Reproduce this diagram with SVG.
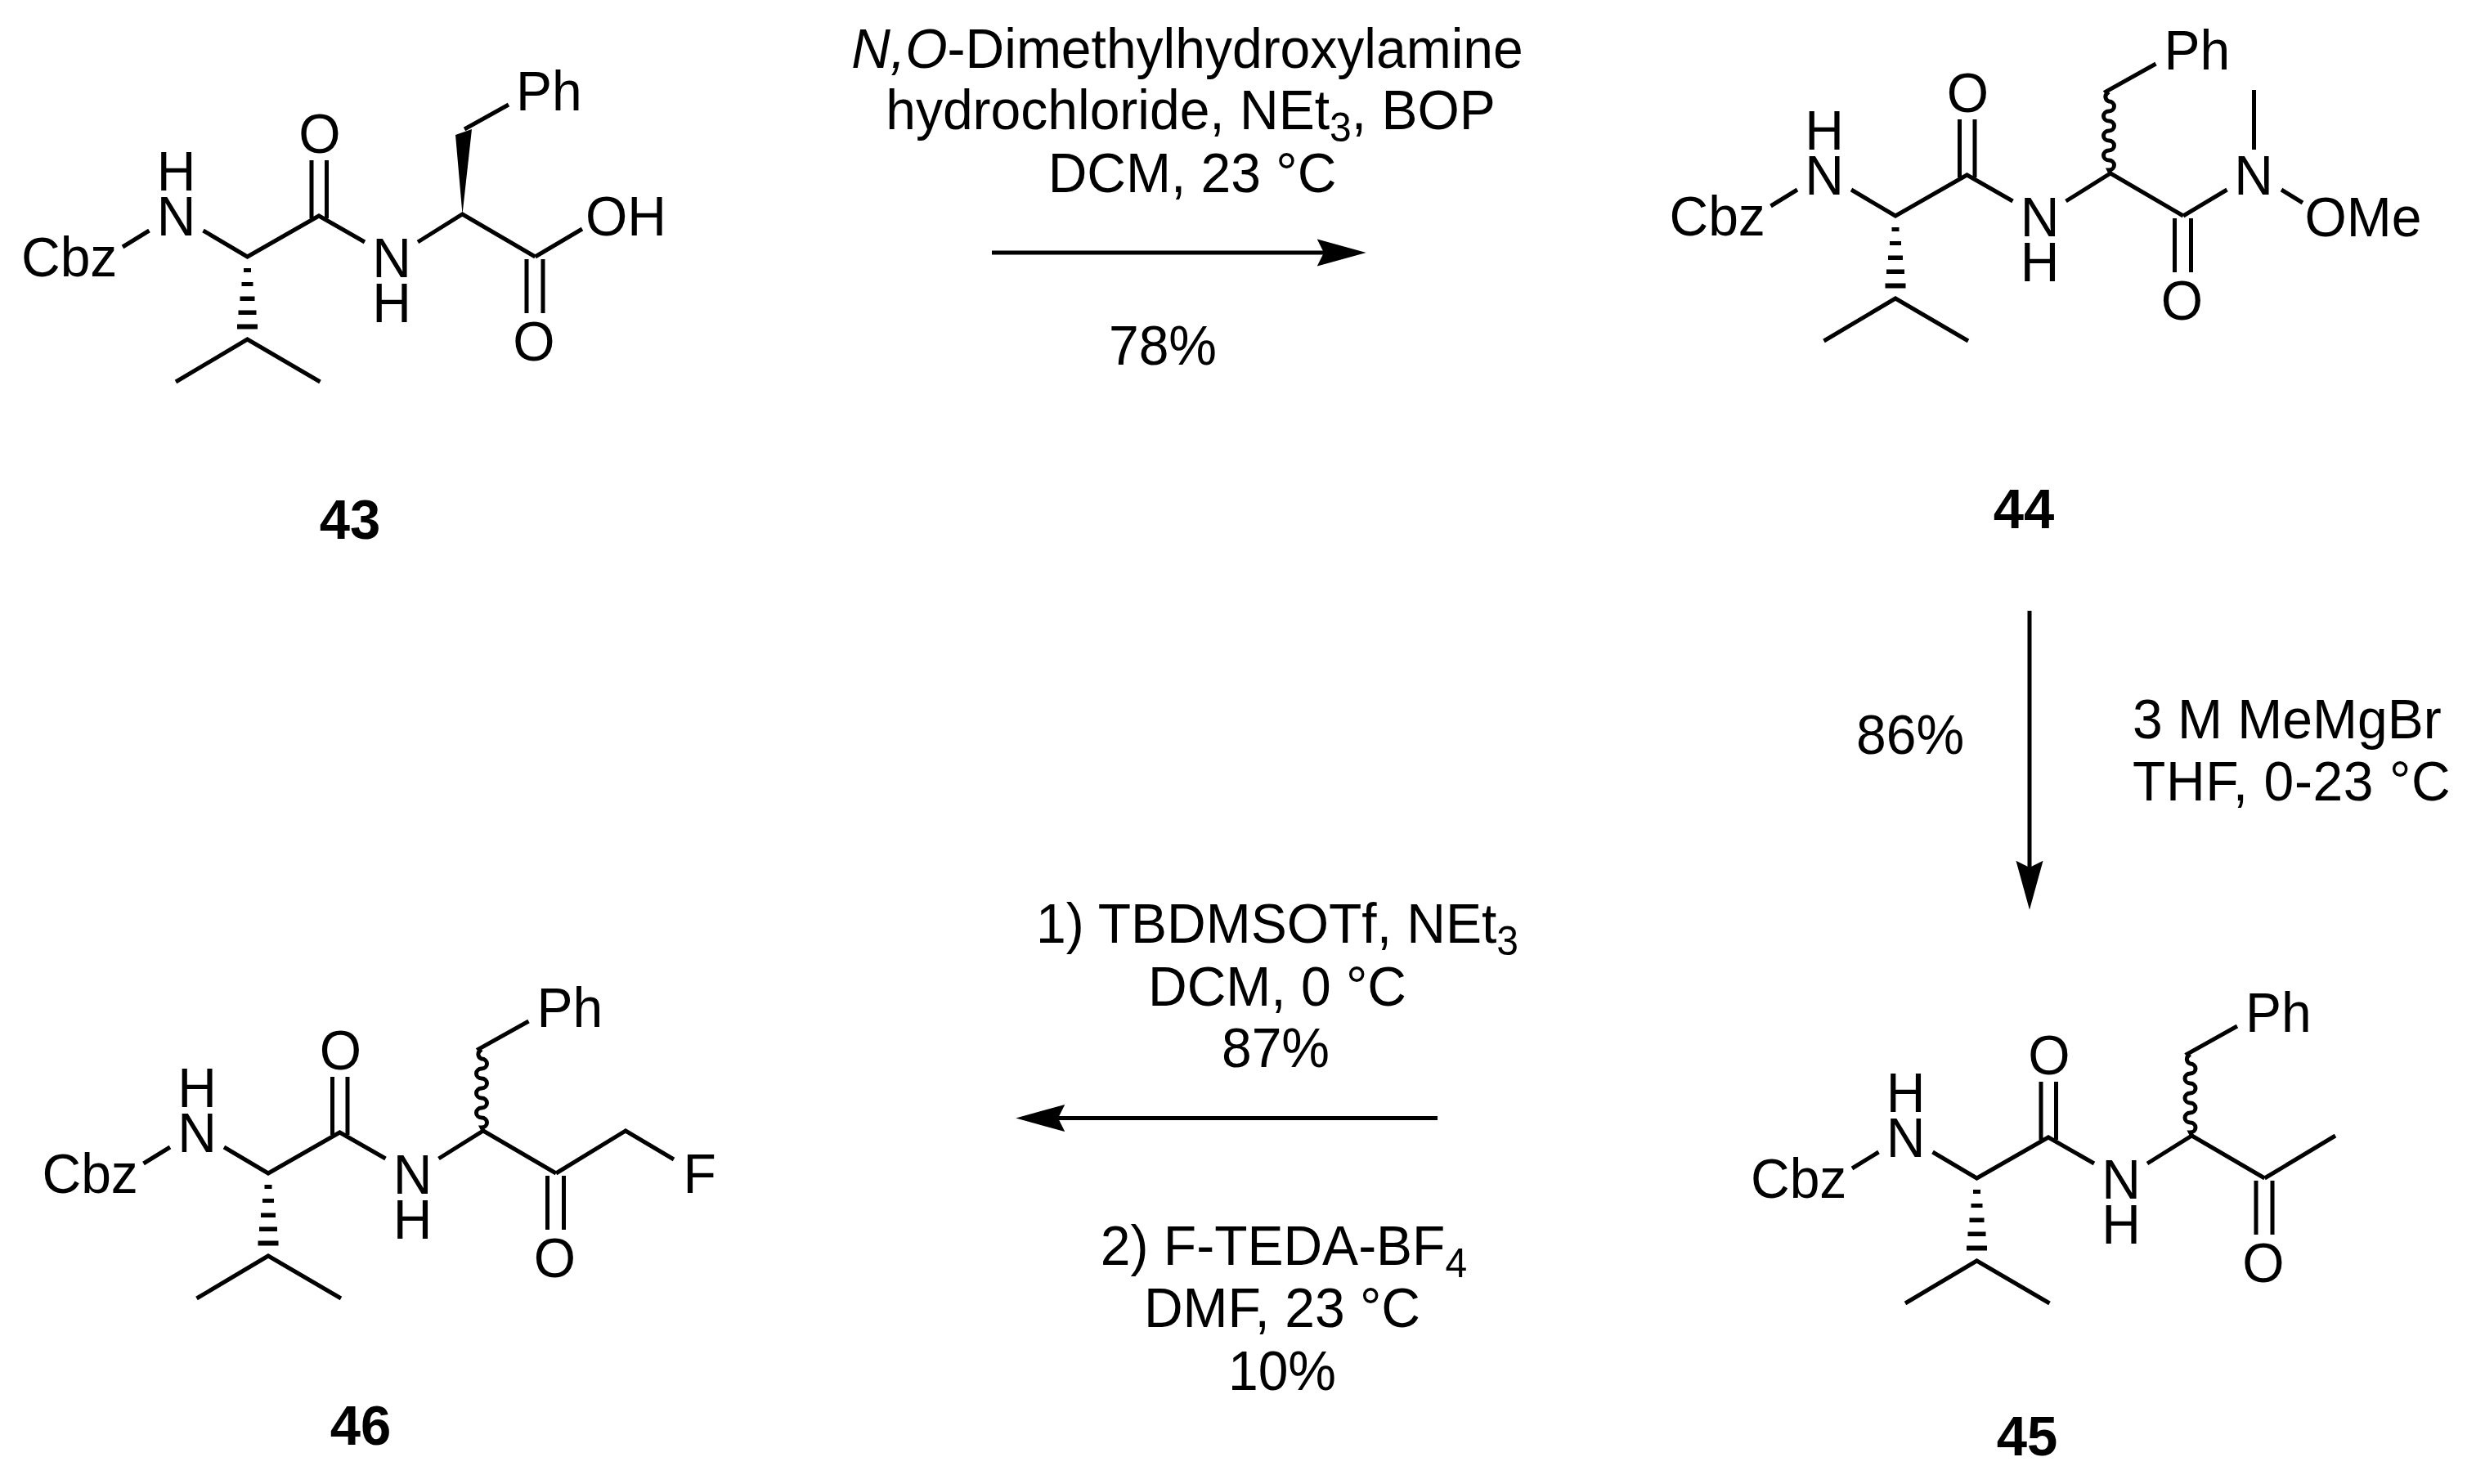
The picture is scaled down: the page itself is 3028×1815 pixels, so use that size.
<svg xmlns="http://www.w3.org/2000/svg" width="3028" height="1815" viewBox="0 0 3028 1815">
<style>
text{font-family:"Liberation Sans",Arial,sans-serif;font-size:66px;fill:#000;transform-box:fill-box;transform-origin:50% 81%;transform:scaleY(1.03)}
.m{text-anchor:middle}
.n{font-weight:bold;font-size:67px}
.b{fill:none;stroke:#000;stroke-width:5;stroke-linejoin:miter}
.a{fill:none;stroke:#000;stroke-width:5;marker-end:url(#head)}
.s{font-size:48px}
</style>
<defs>
<marker id="head" markerUnits="userSpaceOnUse" markerWidth="60" markerHeight="34" viewBox="0 0 58 32" refX="8" refY="16" orient="auto"><path d="M0 0L58 16L0 32L8 16Z" fill="#000"/></marker>
<g id="core">
<path class="b" d="M150 302L182.500 282M248.500 282L302.500 314L390 264L446 296M511 296L565.500 262L654.500 314M381 196V267M399.500 196V267M644 317V383M664 317V383M215 467L302.500 415L391.500 467"/>
<path d="M298 328h9v5h-9zM295.500 345h14v5h-14zM293.500 362.500h18v5.500h-18zM291.500 379.500h22v5.500h-22zM290 396.500h25v6h-25z" fill="#000"/>
</g>
<path id="wavy" class="b" d="M565.500 262L563.500 258a6.500 6 0 0 0 0 -12a6.500 6 0 0 1 0 -12a6.500 6 0 0 0 0 -12a6.500 6 0 0 1 0 -12a6.500 6 0 0 0 0 -12a6.500 6 0 0 1 0 -12a6.500 6 0 0 0 0 -12a6.500 6 0 0 1 -2 -10L560 162L621 128"/>
</defs>
<g id="connectors">
<path class="a" d="M1213 309H1619"/>
<path class="a" d="M2482 747V1061"/>
<path class="a" d="M1758 1367.500H1294"/>
</g>
<g id="compound-43">
<use href="#core"/>
<polygon points="565.500,262 557,165 577,158" fill="#000"/>
<path class="b" d="M568 158L622 128M654.500 314L712 280"/>
<text x="26" y="338">Cbz</text>
<text class="m" x="215.500" y="233">H</text><text class="m" x="215.500" y="288">N</text>
<text class="m" x="391" y="187">O</text>
<text class="m" x="479" y="339">N</text><text class="m" x="479" y="394">H</text>
<text x="716" y="288">OH</text>
<text class="m" x="653" y="441">O</text>
<text x="631" y="135">Ph</text>
<text class="n m" x="428" y="659">43</text>
</g>
<g id="compound-44">
<g transform="translate(2015.500,-50)">
<use href="#core"/><use href="#wavy"/>
<path class="b" d="M654.500 314L708 282M741 233V160M774.500 282L800.500 298"/>
<text x="26" y="338">Cbz</text>
<text class="m" x="215.500" y="233">H</text><text class="m" x="215.500" y="288">N</text>
<text class="m" x="391" y="187">O</text>
<text class="m" x="479" y="339">N</text><text class="m" x="479" y="394">H</text>
<text class="m" x="653" y="441">O</text>
<text x="631" y="135">Ph</text>
<text class="m" x="740.500" y="288">N</text>
<text x="803" y="339">OMe</text>
</g>
<text class="n m" x="2475" y="646">44</text>
</g>
<g id="compound-45">
<g transform="translate(2115,1127)">
<use href="#core"/><use href="#wavy"/>
<path class="b" d="M654.500 314L741 262"/>
<text x="26" y="338">Cbz</text>
<text class="m" x="215.500" y="233">H</text><text class="m" x="215.500" y="288">N</text>
<text class="m" x="391" y="187">O</text>
<text class="m" x="479" y="339">N</text><text class="m" x="479" y="394">H</text>
<text class="m" x="653" y="441">O</text>
<text x="631" y="135">Ph</text>
</g>
<text class="n m" x="2479" y="1780">45</text>
</g>
<g id="compound-46">
<g transform="translate(25.500,1121)">
<use href="#core"/><use href="#wavy"/>
<path class="b" d="M654.500 314L739.500 262L798.500 297"/>
<text x="26" y="338">Cbz</text>
<text class="m" x="215.500" y="233">H</text><text class="m" x="215.500" y="288">N</text>
<text class="m" x="391" y="187">O</text>
<text class="m" x="479" y="339">N</text><text class="m" x="479" y="394">H</text>
<text class="m" x="653" y="441">O</text>
<text x="631" y="135">Ph</text>
<text x="810" y="338">F</text>
</g>
<text class="n m" x="441" y="1767">46</text>
</g>
<g id="conditions-1">
<text class="m" x="1452" y="83"><tspan font-style="italic">N,O</tspan>-Dimethylhydroxylamine</text>
<text class="m" x="1456" y="158">hydrochloride, NEt<tspan class="s" dy="15">3</tspan><tspan dy="-15">, BOP</tspan></text>
<text class="m" x="1458" y="235">DCM, 23 °C</text>
<text class="m" x="1422" y="446">78%</text>
</g>
<g id="conditions-2">
<text x="2270" y="922">86%</text>
<text x="2608" y="903">3 M MeMgBr</text>
<text x="2608" y="979" letter-spacing="0.600">THF, 0-23 °C</text>
</g>
<g id="conditions-3">
<text class="m" x="1562" y="1153">1) TBDMSOTf, NEt<tspan class="s" dy="15">3</tspan></text>
<text class="m" x="1562" y="1230">DCM, 0 °C</text>
<text class="m" x="1560" y="1305">87%</text>
<text class="m" x="1570" y="1547">2) F-TEDA-BF<tspan class="s" dy="15">4</tspan></text>
<text class="m" x="1568" y="1623">DMF, 23 °C</text>
<text class="m" x="1568" y="1700">10%</text>
</g>
</svg>
